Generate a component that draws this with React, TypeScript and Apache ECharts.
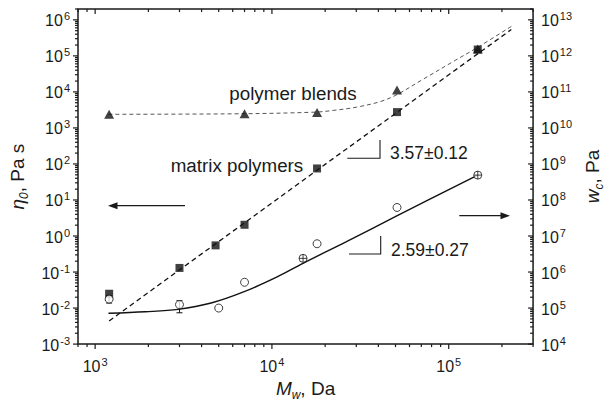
import React, { useEffect, useRef } from "react";
import * as echarts from "echarts";

const W = 613;
const H = 406;
const FONT = "'Liberation Sans', Arial, Helvetica, sans-serif";
const INK = "#1a1a1a";

// axis ranges
const xMin = 800;
const xMax = 300000;
const etaMin = 1e-3;
const etaMax = 2e6;
const wcMin = 1e4;
const wcMax = 2e13;

// matrix polymers: zero-shear viscosity (squares)
const massMatrix = [1200, 3000, 4800, 7000, 18000, 51000, 146000];
const etaMatrix = [0.025, 0.13, 0.55, 2.05, 75, 2750, 150000];

// polymer blends: zero-shear viscosity (triangles)
const massBlends = [1200, 7000, 18000, 51000, 146000];
const etaBlends = [2400, 2480, 2700, 11300, 155000];

// w_c (circles, right axis)
const massWc = [1200, 3000, 5000, 7000, 15000, 18000, 51000, 146000];
const wcValues = [177000, 125000, 100000, 520000, 2400000, 6100000, 62000000, 490000000];
const wcCrossed = [false, false, false, false, true, false, false, true];

// error bars on w_c
const errMass = [1200, 3000];
const errLow = [138000, 74000];
const errHigh = [225000, 160000];

// fitted power-law line for matrix polymers (dashed)
const matrixFitMass = [1200, 226000];
const matrixFitEta = [0.0044, 540000];

// guide curve for blends (thin dashed)
const blendsCurveMass = [1190, 6970, 17700, 22200, 30000, 41400, 51400, 70900, 109000, 146000, 226000];
const blendsCurveEta = [2390, 2480, 2750, 3060, 3760, 5460, 8600, 21800, 75300, 173000, 660000];

// guide curve for w_c (solid)
const wcCurveMass = [1190, 1920, 2950, 4530, 6970, 10700, 15000, 26400, 50200, 146000];
const wcCurveVals = [71500, 79000, 92000, 138000, 285000, 730000, 1750000, 7000000, 35000000, 489000000];

const zip = (a: number[], b: number[]) => a.map((v, i) => [v, b[i]]);

const powLabel = (v: number) => {
  const l = Math.log10(v);
  const n = Math.round(l);
  if (Math.abs(l - n) > 1e-6) return "";
  return `{b|10}{s|${n}}`;
};

const labelRich = {
  b: { fontSize: 16, fontFamily: FONT, color: INK, lineHeight: 18, verticalAlign: "bottom" },
  s: { fontSize: 11, fontFamily: FONT, color: INK, lineHeight: 11, verticalAlign: "top", padding: [0, 0, 0, 1] },
};

const nameRich = {
  i: { fontSize: 19, fontFamily: FONT, fontStyle: "italic", color: INK, lineHeight: 22, verticalAlign: "top" },
  sub: { fontSize: 12, fontFamily: FONT, fontStyle: "italic", color: INK, lineHeight: 12, verticalAlign: "bottom" },
  n: { fontSize: 19, fontFamily: FONT, color: INK, lineHeight: 22, verticalAlign: "top" },
};

function logTicks(min: number, max: number) {
  const out: { v: number; major: boolean }[] = [];
  for (let d = Math.floor(Math.log10(min)); d <= Math.ceil(Math.log10(max)); d++) {
    for (let k = 1; k <= 9; k++) {
      const v = k * Math.pow(10, d);
      if (v >= min * 0.9999 && v <= max * 1.0001) out.push({ v, major: k === 1 });
    }
  }
  return out;
}

export default function App() {
  const ref = useRef<HTMLDivElement>(null);

  useEffect(() => {
    if (!ref.current) return;
    const chart = echarts.init(ref.current, undefined, { renderer: "svg" });

    const circlesPlain = massWc
      .map((m, i) => ({ m, v: wcValues[i], c: wcCrossed[i] }))
      .filter((d) => !d.c)
      .map((d) => [d.m, d.v]);
    const circlesCrossed = massWc
      .map((m, i) => ({ m, v: wcValues[i], c: wcCrossed[i] }))
      .filter((d) => d.c)
      .map((d) => [d.m, d.v]);
    const errData = errMass.map((m, i) => [m, errLow[i], errHigh[i]]);

    chart.setOption({
      animation: false,
      backgroundColor: "#ffffff",
      textStyle: { fontFamily: FONT },
      grid: {
        left: 78,
        right: W - 538,
        top: 9,
        bottom: H - 354,
        show: true,
        borderColor: INK,
        borderWidth: 1.5,
        backgroundColor: "transparent",
      },
      xAxis: {
        type: "log",
        logBase: 10,
        min: xMin,
        max: xMax,
        axisLine: { show: false },
        axisTick: { show: false },
        splitLine: { show: false },
        axisLabel: { formatter: powLabel, margin: 12, rich: labelRich },
        name: "{i|M}{sub|w}{n|, Da}",
        nameLocation: "middle",
        nameGap: 30,
        nameTextStyle: { rich: nameRich },
      },
      yAxis: [
        {
          type: "log",
          logBase: 10,
          min: etaMin,
          max: etaMax,
          position: "left",
          axisLine: { show: false },
          axisTick: { show: false },
          splitLine: { show: false },
          axisLabel: { formatter: powLabel, margin: 8, rich: labelRich },
          name: "{i|η}{sub|0}{n|, Pa s}",
          nameLocation: "middle",
          nameRotate: 90,
          nameGap: 48,
          nameTextStyle: { rich: nameRich },
        },
        {
          type: "log",
          logBase: 10,
          min: wcMin,
          max: wcMax,
          position: "right",
          axisLine: { show: false },
          axisTick: { show: false },
          splitLine: { show: false },
          axisLabel: { formatter: powLabel, margin: 8, rich: labelRich },
          name: "{i|w}{sub|c}{n|, Pa}",
          nameLocation: "middle",
          nameRotate: 90,
          nameGap: 44,
          nameTextStyle: { rich: nameRich },
        },
      ],
      series: [
        {
          type: "line",
          name: "matrix fit",
          data: zip(matrixFitMass, matrixFitEta),
          yAxisIndex: 0,
          symbol: "none",
          silent: true,
          lineStyle: { color: "#111", width: 1.3, type: [5, 3.5] },
          z: 2,
        },
        {
          type: "line",
          name: "blends curve",
          data: zip(blendsCurveMass, blendsCurveEta),
          yAxisIndex: 0,
          symbol: "none",
          smooth: 0.35,
          silent: true,
          lineStyle: { color: "#555", width: 1, type: [4, 3] },
          z: 2,
        },
        {
          type: "line",
          name: "wc curve",
          data: zip(wcCurveMass, wcCurveVals),
          yAxisIndex: 1,
          symbol: "none",
          smooth: 0.35,
          silent: true,
          lineStyle: { color: "#111", width: 1.4 },
          z: 2,
        },
        {
          type: "custom",
          name: "wc error",
          yAxisIndex: 1,
          data: errData,
          encode: { x: 0, y: [1, 2] },
          z: 3,
          renderItem: (params: any, api: any) => {
            const x = api.value(0);
            const p1 = api.coord([x, api.value(1)]);
            const p2 = api.coord([x, api.value(2)]);
            const st = { stroke: "#111", lineWidth: 1 };
            return {
              type: "group",
              children: [
                { type: "line", shape: { x1: p1[0], y1: p1[1], x2: p2[0], y2: p2[1] }, style: st },
                { type: "line", shape: { x1: p1[0] - 3, y1: p1[1], x2: p1[0] + 3, y2: p1[1] }, style: st },
                { type: "line", shape: { x1: p2[0] - 3, y1: p2[1], x2: p2[0] + 3, y2: p2[1] }, style: st },
              ],
            };
          },
        },
        {
          type: "scatter",
          name: "blends",
          data: zip(massBlends, etaBlends),
          yAxisIndex: 0,
          symbol: "triangle",
          symbolSize: [10, 9],
          itemStyle: { color: "#111" },
          z: 4,
        },
        {
          type: "scatter",
          name: "matrix",
          data: zip(massMatrix, etaMatrix),
          yAxisIndex: 0,
          symbol: "rect",
          symbolSize: 8,
          itemStyle: { color: "#111" },
          z: 5,
        },
        {
          type: "scatter",
          name: "wc",
          data: circlesPlain,
          yAxisIndex: 1,
          symbol: "circle",
          symbolSize: 8,
          itemStyle: { color: "#ffffff", borderColor: "#111", borderWidth: 1 },
          z: 5,
        },
        {
          type: "scatter",
          name: "wc crossed",
          data: circlesCrossed,
          yAxisIndex: 1,
          symbol: "path://M10,0A10,10,0,1,1,10,20A10,10,0,1,1,10,0ZM0,10L20,10M10,0L10,20",
          symbolSize: 8,
          itemStyle: { color: "#ffffff", borderColor: "#111", borderWidth: 1 },
          z: 5,
        },
      ],
    });

    // axis ticks through the library's scales
    const px = (v: number) => chart.convertToPixel({ xAxisIndex: 0 }, v) as number;
    const pyL = (v: number) => chart.convertToPixel({ yAxisIndex: 0 }, v) as number;
    const pyR = (v: number) => chart.convertToPixel({ yAxisIndex: 1 }, v) as number;
    const left = px(xMin);
    const right = px(xMax);
    const bottom = pyL(etaMin);
    const top = pyL(etaMax);
    const tickStyle = { stroke: INK, lineWidth: 1.2 };
    const els: any[] = [];
    const MAJ = 5;
    const MIN = 3;
    logTicks(xMin, xMax).forEach(({ v, major }) => {
      const x = px(v);
      const len = major ? MAJ : MIN;
      els.push({ type: "line", shape: { x1: x, y1: bottom, x2: x, y2: bottom + len }, style: tickStyle, silent: true });
      els.push({ type: "line", shape: { x1: x, y1: top, x2: x, y2: top + len }, style: tickStyle, silent: true });
    });
    logTicks(etaMin, etaMax).forEach(({ v, major }) => {
      const y = pyL(v);
      const len = major ? MAJ : MIN;
      els.push({ type: "line", shape: { x1: left, y1: y, x2: left - len, y2: y }, style: tickStyle, silent: true });
    });
    logTicks(wcMin, wcMax).forEach(({ v, major }) => {
      const y = pyR(v);
      const len = major ? MAJ : MIN;
      els.push({ type: "line", shape: { x1: right, y1: y, x2: right - len, y2: y }, style: tickStyle, silent: true });
    });

    const txt = (x: number, y: number, text: string, size: number) => ({
      type: "text",
      x,
      y,
      silent: true,
      style: { text, fill: INK, font: `${size}px ${FONT}`, textAlign: "left", textVerticalAlign: "middle" },
    });
    const lineSt = { stroke: INK, lineWidth: 1.1, fill: "none" };

    els.push(txt(229.3, 93.3, "polymer blends", 18.8));
    els.push(txt(170.7, 165, "matrix polymers", 18.8));
    els.push({ type: "polyline", shape: { points: [[347.3, 158.3], [380, 158.3], [380, 140]] }, style: lineSt, silent: true });
    els.push(txt(390, 153.3, "3.57±0.12", 17.5));
    els.push({ type: "polyline", shape: { points: [[349, 254], [380.7, 254], [380.7, 236]] }, style: lineSt, silent: true });
    els.push(txt(391, 250, "2.59±0.27", 17.5));
    // arrows
    els.push({ type: "line", shape: { x1: 185, y1: 205.7, x2: 116, y2: 205.7 }, style: { stroke: INK, lineWidth: 1.2 }, silent: true });
    els.push({ type: "polygon", shape: { points: [[108, 205.7], [117.5, 202.2], [117.5, 209.2]] }, style: { fill: INK }, silent: true });
    els.push({ type: "line", shape: { x1: 459.3, y1: 215.7, x2: 502, y2: 215.7 }, style: { stroke: INK, lineWidth: 1.2 }, silent: true });
    els.push({ type: "polygon", shape: { points: [[510, 215.7], [500.5, 212.2], [500.5, 219.2]] }, style: { fill: INK }, silent: true });

    chart.setOption({ graphic: { elements: els } });

    return () => chart.dispose();
  }, []);

  return (
    <div
      ref={ref}
      style={{ position: "absolute", left: 0, top: 0, width: W, height: H, background: "#fff" }}
    />
  );
}
